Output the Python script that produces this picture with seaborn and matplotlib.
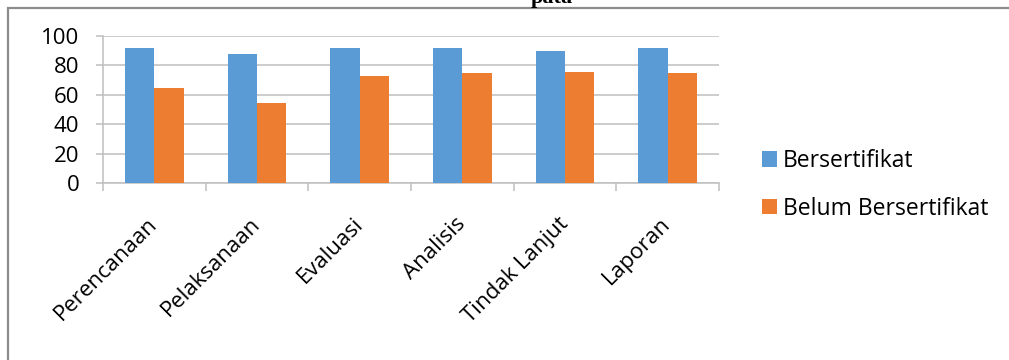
import matplotlib
matplotlib.use("Agg")
import matplotlib.pyplot as plt
import matplotlib.patches as mpatches
import seaborn as sns
import pandas as pd

categories = ["Perencanaan", "Pelaksanaan", "Evaluasi", "Analisis", "Tindak Lanjut", "Laporan"]
bersertifikat = [92, 88, 92, 92, 90, 92]
belum_bersertifikat = [64.5, 54.5, 73, 74.5, 75.5, 74.5]
series_names = ["Bersertifikat", "Belum Bersertifikat"]
y_ticks = [0, 20, 40, 60, 80, 100]
title_fragment = "pata"

sns.set_theme(style="white")
FONT = ["Open Sans", "DejaVu Sans"]
plt.rcParams["font.family"] = FONT
plt.rcParams["text.color"] = "black"

df = pd.DataFrame({
    "Kategori": categories * 2,
    "Nilai": bersertifikat + belum_bersertifikat,
    "Seri": [series_names[0]] * len(categories) + [series_names[1]] * len(categories),
})

W, H = 1009, 360
fig = plt.figure(figsize=(W / 100, H / 100), dpi=100)
ax = fig.add_axes([103 / W, 1 - 183 / H, (719 - 103) / W, (183 - 36) / H])

sns.barplot(data=df, x="Kategori", y="Nilai", hue="Seri", order=categories,
            hue_order=series_names, palette=["#5B9BD5", "#ED7D31"],
            saturation=1, width=0.571, gap=0, edgecolor="none", linewidth=0,
            ax=ax, zorder=3)

ax.set_ylim(0, 100)
ax.set_xlim(-0.5, len(categories) - 0.5)
ax.set_yticks(y_ticks)
ax.set_yticklabels([str(v) for v in y_ticks])
ax.set_xlabel("")
ax.set_ylabel("")
ax.yaxis.grid(True, color="#BFBFBF", linewidth=1.1, zorder=0)
ax.xaxis.grid(False)
ax.set_axisbelow(True)

for side in ["top", "right"]:
    ax.spines[side].set_visible(False)
for side in ["left", "bottom"]:
    ax.spines[side].set_color("#BFBFBF")
    ax.spines[side].set_linewidth(1.1)

ax.tick_params(axis="y", which="major", length=5, width=1.1, color="#BFBFBF",
               pad=12, labelsize=16, labelcolor="black", left=True)
ax.set_xticks(range(len(categories)))
ax.set_xticklabels(categories, rotation=45, ha="right", rotation_mode="anchor",
                   va="center")
ax.tick_params(axis="x", which="major", length=0, pad=27, labelsize=16,
               labelcolor="black")
ax.set_xticks([i - 0.5 for i in range(len(categories) + 1)], minor=True)
ax.tick_params(axis="x", which="minor", length=6, width=1.1, color="#BFBFBF",
               bottom=True)

handles, labels = ax.get_legend_handles_labels()
ax.get_legend().remove()
leg = fig.legend(handles, labels, loc="center left",
                 bbox_to_anchor=(762 / W, 1 - 185 / H), frameon=False,
                 fontsize=16.5, handlelength=0.655, handleheight=0.655,
                 handletextpad=0.27, labelspacing=1.03, borderpad=0,
                 borderaxespad=0, labelcolor="black")

# outer chart border (left and top edges visible)
fig.patches.append(mpatches.Rectangle((8 / W, -0.2), 1.2, 1.2 - 8 / H,
                                      transform=fig.transFigure, fill=False,
                                      edgecolor="#8C8C8C", linewidth=1.6,
                                      clip_on=False))

fig.text(573 / W, 1 - 3 / H, title_fragment, ha="right", va="baseline",
         fontsize=16, fontweight="bold", color="black",
         family=["Liberation Serif", "DejaVu Serif"])

fig.savefig("out.png", dpi=100)
